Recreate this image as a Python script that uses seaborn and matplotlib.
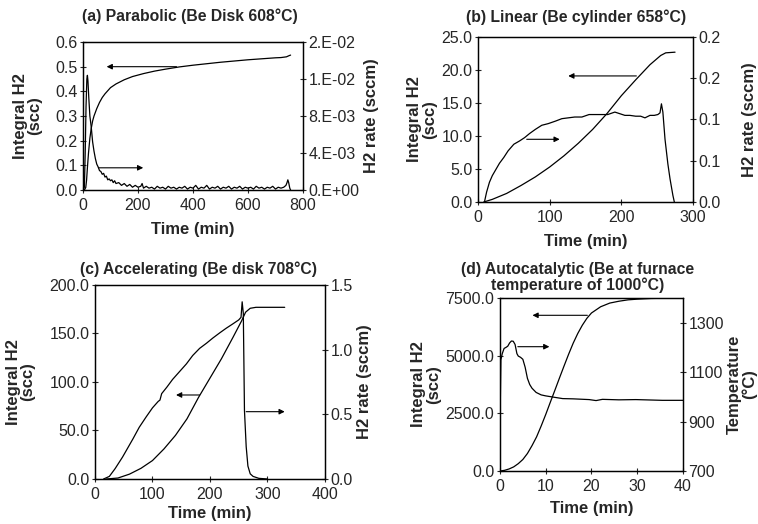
import numpy as np
import pandas as pd
import matplotlib
matplotlib.use('Agg')
import matplotlib.pyplot as plt
from matplotlib.ticker import FormatStrFormatter
import seaborn as sns

# (a) Parabolic
t_a_int = [5, 10, 13, 16, 20, 25, 30, 35, 40, 50, 60, 70, 80, 100, 120, 150, 180, 220, 260,
           300, 350, 400, 450, 500, 550, 600, 650, 700, 720, 740, 750, 755]
h2_a_int = [0.0, 0.01, 0.04, 0.09, 0.15, 0.21, 0.25, 0.28, 0.30, 0.33, 0.355, 0.375, 0.39, 0.415,
            0.43, 0.447, 0.46, 0.472, 0.482, 0.49, 0.499, 0.506, 0.512, 0.518, 0.523, 0.528,
            0.532, 0.536, 0.537, 0.540, 0.545, 0.547]
t_a_rate = [0, 5, 8, 11, 14, 16, 18, 21, 25, 30, 35, 40, 45, 50, 55, 60, 65, 70, 75, 80, 85, 90,
            95, 100, 105, 110, 115, 120, 130, 140, 150, 160, 170, 180, 190, 200, 210, 215, 220,
            230, 240, 250, 260, 270, 280, 290, 300, 310, 320, 330, 340, 350, 360, 370, 380, 390,
            400, 410, 420, 430, 440, 450, 460, 470, 480, 490, 500, 510, 520, 530, 540, 550, 560,
            570, 580, 590, 600, 610, 620, 630, 640, 650, 660, 670, 680, 690, 700, 710, 720, 730,
            738, 742, 745, 748, 752, 755]
h2_a_rate = [0.0, 0.0003, 0.004, 0.009, 0.0120, 0.0124, 0.0118, 0.0100, 0.0080, 0.0068, 0.0052,
             0.0042, 0.0034, 0.0028, 0.0025, 0.0021, 0.0020, 0.0017, 0.0018, 0.0014, 0.0015,
             0.0011, 0.0012, 0.0010, 0.0011, 0.0008, 0.0010, 0.0007, 0.0008, 0.0005, 0.0007,
             0.0004, 0.0006, 0.0003, 0.0005, 0.0003, 0.0004, 0.0007, 0.0002, 0.0004, 0.0002,
             0.0003, 0.0001, 0.0004, 0.0002, 0.0003, 0.0001, 0.0004, 0.0002, 0.0003, 0.0001,
             0.0003, 0.0002, 0.0004, 0.0001, 0.0003, 0.0002, 0.0005, 0.0001, 0.0003, 0.0002,
             0.0005, 0.0001, 0.0003, 0.0002, 0.0004, 0.0001, 0.0003, 0.0002, 0.0004, 0.0001,
             0.0003, 0.0002, 0.0004, 0.0001, 0.0003, 0.0002, 0.0003, 0.0001, 0.0004, 0.0002,
             0.0003, 0.0001, 0.0003, 0.0002, 0.0004, 0.0001, 0.0003, 0.0002, 0.0003, 0.0005,
             0.0008, 0.0011, 0.0008, 0.0002, 0.0]

# (b) Linear
t_b_int = [8, 20, 40, 60, 80, 100, 120, 140, 160, 180, 200, 220, 240, 255, 262, 275]
h2_b_int = [0.0, 0.4, 1.3, 2.5, 3.8, 5.3, 7.0, 8.9, 11.0, 13.4, 16.1, 18.5, 20.8, 22.2, 22.6, 22.7]
t_b_rate = [9, 12, 16, 20, 24, 30, 36, 42, 50, 58, 65, 72, 80, 89, 98, 108, 117, 126, 135, 145,
            155, 163, 172, 181, 191, 198, 205, 212, 220, 227, 233, 240, 246, 251, 254, 256, 258,
            261, 265, 268, 270, 272, 274]
h2_b_rate = [0.0, 0.012, 0.024, 0.032, 0.038, 0.047, 0.054, 0.062, 0.070, 0.074, 0.078, 0.083,
             0.088, 0.093, 0.095, 0.098, 0.101, 0.102, 0.103, 0.103, 0.106, 0.106, 0.106, 0.106,
             0.109, 0.107, 0.105, 0.105, 0.104, 0.104, 0.102, 0.105, 0.105, 0.106, 0.108, 0.119,
             0.109, 0.076, 0.046, 0.028, 0.018, 0.008, 0.0]

# (c) Accelerating
t_c_int = [20, 40, 60, 80, 100, 120, 140, 160, 180, 200, 220, 240, 255, 262, 270, 280, 330]
h2_c_int = [0, 1, 5, 11, 19, 31, 45, 62, 84, 104, 124, 146, 163, 172, 176, 177, 177]
t_c_rate = [15, 25, 35, 48, 57, 66, 77, 89, 100, 110, 113, 116, 125, 135, 147, 159, 170, 182, 194,
            205, 217, 228, 240, 250, 254, 256, 258, 260, 263, 266, 270, 275, 285, 300]
h2_c_rate = [0.0, 0.02, 0.08, 0.17, 0.24, 0.31, 0.40, 0.48, 0.55, 0.60, 0.61, 0.66, 0.71, 0.77,
             0.83, 0.89, 0.955, 1.01, 1.05, 1.09, 1.13, 1.165, 1.20, 1.23, 1.25, 1.37, 1.28, 0.53,
             0.25, 0.10, 0.04, 0.02, 0.005, 0.0]

# (d) Autocatalytic
t_d_int = [0, 1, 2, 3, 4, 5, 6, 7, 8, 9, 10, 11, 12, 13, 14, 15, 16, 17, 18, 19, 20, 22, 24, 26,
           28, 30, 33, 36, 40]
h2_d_int = [0, 30, 90, 180, 320, 500, 760, 1100, 1480, 1950, 2450, 2980, 3500, 4030, 4550, 5060,
            5540, 5960, 6320, 6620, 6850, 7120, 7280, 7360, 7420, 7450, 7480, 7490, 7500]
t_d_temp = [0, 0.2, 0.5, 0.9, 1.3, 1.7, 2.1, 2.5, 2.9, 3.3, 3.7, 4.0, 4.5, 5.0, 5.5, 6.0, 6.5, 7.0,
            7.9, 9.0, 10.0, 12.0, 13.7, 16.0, 19.5, 21.0, 22.4, 26.0, 29.7, 35.5, 40.0]
temp_d = [880, 1150, 1175, 1196, 1200, 1205, 1218, 1226, 1225, 1212, 1175, 1165, 1160, 1152, 1120,
          1075, 1050, 1035, 1018, 1008, 1004, 998, 993, 992, 989, 985, 990, 988, 989, 986, 986]

sns.set_style('ticks')
plt.rcParams['font.family'] = ['Liberation Sans', 'DejaVu Sans']

fig = plt.figure(figsize=(7.58, 5.24), dpi=100)


def panel(rect, t1, y1, t2, y2, xlim, xticks, ylim1, yticks1, ylim2, yticks2, ylabels2,
          title, title_x, title_pad, right_label, lpad=3, rpad=3, xpad=7):
    ax = fig.add_axes(rect)
    sns.lineplot(x=t1, y=y1, ax=ax, color='black', lw=0.9)
    ax2 = ax.twinx()
    sns.lineplot(x=t2, y=y2, ax=ax2, color='black', lw=0.9)
    ax.set_xlim(*xlim)
    ax.set_xticks(xticks)
    ax.set_ylim(*ylim1)
    ax.set_yticks(yticks1)
    ax.yaxis.set_major_formatter(FormatStrFormatter('%.1f'))
    ax2.set_ylim(*ylim2)
    ax2.set_yticks(yticks2)
    ax2.set_yticklabels(ylabels2)
    ax.set_xlabel('Time (min)', fontsize=12, fontweight='bold', labelpad=xpad)
    ax.set_ylabel('Integral H2\n(scc)', fontsize=12, fontweight='bold', linespacing=1.0,
                  labelpad=lpad)
    ax2.set_ylabel(right_label, fontsize=12, fontweight='bold', linespacing=1.0, labelpad=rpad)
    ax.set_title(title, fontsize=11.3, fontweight='bold', x=title_x, pad=title_pad,
                 linespacing=1.0)
    for a in (ax, ax2):
        a.tick_params(direction='inout', length=5, width=0.8, labelsize=11.5, pad=1.5)
        a.tick_params(axis='x', pad=3)
        for s in a.spines.values():
            s.set_visible(True)
            s.set_linewidth(0.9)
            s.set_color('black')
    return ax, ax2


def arrow(a, tail, head):
    a.annotate('', xy=head, xytext=tail,
               arrowprops=dict(arrowstyle='-|>', color='black', lw=0.8, mutation_scale=8,
                               shrinkA=0, shrinkB=0))


# (a)
ax, ax2 = panel([0.1095, 0.6374, 0.2902, 0.2824], t_a_int, h2_a_int, t_a_rate, h2_a_rate,
                (0, 800), [0, 200, 400, 600, 800], (0, 0.6), np.arange(0, 0.61, 0.1),
                (0, 0.016), [0, 0.004, 0.008, 0.012, 0.016],
                ['0.E+00', '4.E-03', '8.E-03', '1.E-02', '2.E-02'],
                '(a) Parabolic (Be Disk 608°C)', 0.484, 15, 'H2 rate (sccm)', lpad=9)
arrow(ax, (340, 0.50), (86, 0.50))
arrow(ax, (56, 0.09), (219, 0.09))

# (b)
ax, ax2 = panel([0.6306, 0.6145, 0.2836, 0.3149], t_b_int, h2_b_int, t_b_rate, h2_b_rate,
                (0, 300), [0, 100, 200, 300], (0, 25), np.arange(0, 25.1, 5),
                (0, 0.2), [0, 0.05, 0.1, 0.15, 0.2], ['0.0', '0.1', '0.1', '0.2', '0.2'],
                '(b) Linear (Be cylinder 658°C)', 0.456, 11, 'H2 rate (sccm)', rpad=15)
arrow(ax, (221, 19.1), (126, 19.1))
arrow(ax, (68, 9.5), (114, 9.5))

# (c)
ax, ax2 = panel([0.1253, 0.0859, 0.3034, 0.3702], t_c_int, h2_c_int, t_c_rate, h2_c_rate,
                (0, 400), [0, 100, 200, 300, 400], (0, 200), np.arange(0, 201, 50),
                (0, 1.5), [0, 0.5, 1.0, 1.5], ['0.0', '0.5', '1.0', '1.5'],
                '(c) Accelerating (Be disk 708°C)', 0.448, 8, 'H2 rate (sccm)', lpad=10,
                xpad=3.5)
arrow(ax, (182, 86.6), (141, 86.6))
arrow(ax, (263, 69.4), (330, 69.4))

# (d)
ax, ax2 = panel([0.6596, 0.1011, 0.2414, 0.3302], t_d_int, h2_d_int, t_d_temp, temp_d,
                (0, 40), [0, 10, 20, 30, 40], (0, 7500), np.arange(0, 7501, 2500),
                (700, 1400), [700, 900, 1100, 1300], ['700', '900', '1100', '1300'],
                '(d) Autocatalytic (Be at furnace\ntemperature of 1000°C)', 0.426, 6,
                'Temperature\n(°C)', rpad=2, xpad=5)
arrow(ax, (19.1, 6750), (7.1, 6750))
arrow(ax2, (3.9, 1203), (10.8, 1203))

fig.savefig('out.png', dpi=100)
